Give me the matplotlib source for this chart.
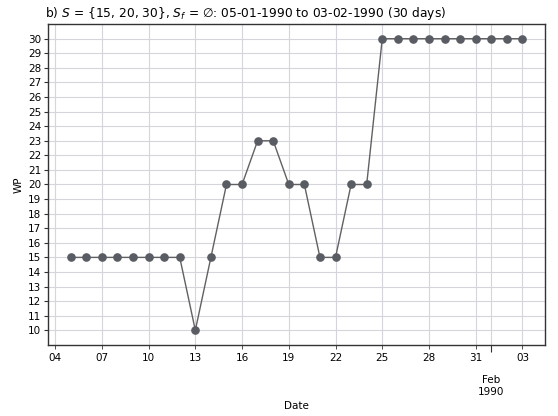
import numpy as np
import pandas as pd
import matplotlib
matplotlib.use("Agg")
import matplotlib.pyplot as plt
import matplotlib.dates as mdates
from matplotlib.ticker import FixedLocator

# daily WP values, 05-01-1990 .. 03-02-1990
dates = pd.date_range("1990-01-05", "1990-02-03", freq="D")
wp = [15, 15, 15, 15, 15, 15, 15, 15, 10, 15,
      20, 20, 23, 23, 20, 20, 15, 15, 20, 20,
      30, 30, 30, 30, 30, 30, 30, 30, 30, 30]
day_ticks = pd.date_range("1990-01-04", "1990-02-03", freq="3D")
month_ticks = [pd.Timestamp("1990-02-01")]
y_ticks = list(range(10, 31))

plt.rcParams['font.family'] = ['DejaVu Sans']
fig = plt.figure(figsize=(5.58, 4.16), dpi=100)
ax = fig.add_axes([0.086, 0.171, 0.891, 0.771])

ax.plot(dates, wp, color="#616161", lw=1.0, marker="o", ms=5.2,
        mfc="#5a5c63", mec="#5a5c63", zorder=3)

ax.set_xlim(pd.Timestamp("1990-01-03 13:00"), pd.Timestamp("1990-02-04 11:00"))
ax.set_ylim(9, 31)
ax.set_yticks(y_ticks)

ax.xaxis.set_major_locator(FixedLocator(mdates.date2num(month_ticks)))
ax.xaxis.set_major_formatter(mdates.DateFormatter("%b\n%Y"))
ax.xaxis.set_minor_locator(FixedLocator(mdates.date2num(day_ticks)))
ax.xaxis.set_minor_formatter(mdates.DateFormatter("%d"))

ax.tick_params(axis="x", which="major", length=5, pad=17, labelsize=7.5, color="#333333")
ax.tick_params(axis="x", which="minor", length=3, pad=3, labelsize=7.5, color="#333333")
ax.tick_params(axis="y", length=3, pad=2, labelsize=7.5, color="#333333")

ax.grid(True, which="both", axis="x", color="#d5d5dc", lw=0.8)
ax.grid(True, which="major", axis="y", color="#d5d5dc", lw=0.8)
ax.set_axisbelow(True)
for s in ax.spines.values():
    s.set_color("#333333")
    s.set_linewidth(1.0)

ax.set_xlabel("Date", fontsize=7.5)
ax.xaxis.set_label_coords(0.5, -0.176)
ax.set_ylabel("WP", fontsize=7.5, labelpad=3)
ax.set_title(r"b) $S$ = {15, 20, 30}, $S_f$ = $\emptyset$: 05-01-1990 to 03-02-1990 (30 days)",
             loc="left", fontsize=8.8, pad=5, x=-0.007)

fig.savefig("out.png", dpi=100)
